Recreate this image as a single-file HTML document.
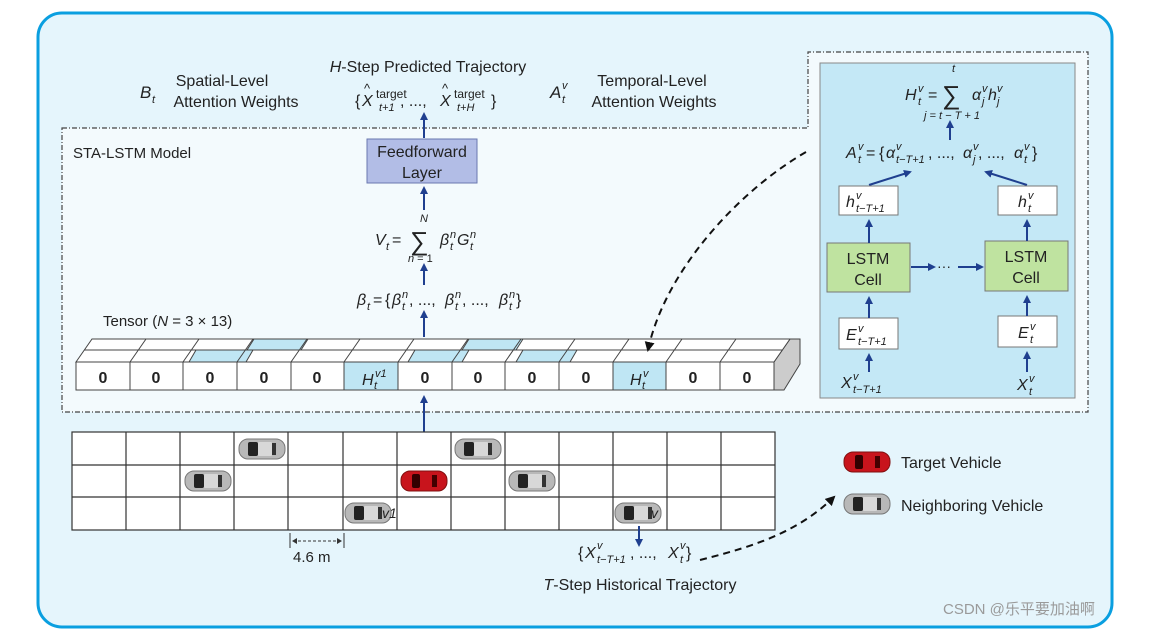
<!DOCTYPE html>
<html><head><meta charset="utf-8"><style>
body{margin:0;background:#fff;}
svg text{font-family:"Liberation Sans",sans-serif;fill:#222;}
.i{font-style:italic;}
.s{font-size:11px;font-style:italic;}
</style></head><body>
<svg width="1150" height="631" viewBox="0 0 1150 631" xmlns="http://www.w3.org/2000/svg">
<defs>
<marker id="ab" markerWidth="8" markerHeight="8" refX="6" refY="4" orient="auto" markerUnits="userSpaceOnUse"><path d="M0,0 L8,4 L0,8 Z" fill="#1f3f8f"/></marker>
<marker id="ak" markerWidth="10" markerHeight="10" refX="8" refY="5" orient="auto" markerUnits="userSpaceOnUse"><path d="M0,0 L10,5 L0,10 Z" fill="#111"/></marker>
<g id="car"><rect x="-23" y="-10" width="46" height="20" rx="9" fill="#b8b8b8" stroke="#777" stroke-width="1"/><rect x="-14" y="-7" width="10" height="14" rx="2" fill="#222"/><rect x="-4" y="-7" width="14" height="14" rx="1" fill="#d8d8d8"/><rect x="10" y="-6" width="4" height="12" fill="#333"/></g>
<g id="rcar"><rect x="-23" y="-10" width="46" height="20" rx="9" fill="#c8141c" stroke="#801010" stroke-width="1"/><rect x="-12" y="-7" width="8" height="14" rx="2" fill="#300"/><rect x="8" y="-6" width="5" height="12" fill="#400"/></g>
</defs>
<rect x="38" y="13" width="1074" height="614" rx="24" fill="#e5f5fc" stroke="#0a9fe0" stroke-width="3"/>
<path d="M62,128 H808 V52 H1088 V412 H62 Z" fill="#f3fafd" stroke="#444" stroke-width="1.2" stroke-dasharray="5,2,1,2"/>
<text x="140" y="98" font-size="17" class="i">B</text><text x="152" y="103" class="s">t</text>
<text x="222" y="86" font-size="16" text-anchor="middle">Spatial-Level</text>
<text x="236" y="107" font-size="16" text-anchor="middle">Attention Weights</text>
<text x="428" y="72" font-size="16" text-anchor="middle"><tspan class="i">H</tspan>-Step Predicted Trajectory</text>
<text x="355" y="106" font-size="16">{</text><text x="362" y="106" font-size="16" class="i">X</text><text x="364" y="93" font-size="13">^</text>
<text x="376" y="98" font-size="12">target</text><text x="379" y="111" class="s">t+1</text>
<text x="400" y="106" font-size="16">, ...,</text><text x="440" y="106" font-size="16" class="i">X</text><text x="442" y="93" font-size="13">^</text>
<text x="454" y="98" font-size="12">target</text><text x="457" y="111" class="s">t+H</text><text x="491" y="106" font-size="16">}</text>
<text x="550" y="98" font-size="17" class="i">A</text><text x="562" y="89" class="s">v</text><text x="562" y="103" class="s">t</text>
<text x="652" y="86" font-size="16" text-anchor="middle">Temporal-Level</text>
<text x="654" y="107" font-size="16" text-anchor="middle">Attention Weights</text>
<text x="73" y="158" font-size="15">STA-LSTM Model</text>
<line x1="424" y1="138" x2="424" y2="114" stroke="#1f3f8f" stroke-width="2" marker-end="url(#ab)"/>
<rect x="367" y="139" width="110" height="44" fill="#b2bde6" stroke="#6a78b0"/>
<text x="422" y="157" font-size="16" text-anchor="middle">Feedforward</text>
<text x="422" y="178" font-size="16" text-anchor="middle">Layer</text>
<line x1="424" y1="210" x2="424" y2="188" stroke="#1f3f8f" stroke-width="2" marker-end="url(#ab)"/>
<text x="375" y="245" font-size="16" class="i">V</text><text x="386" y="250" class="s">t</text><text x="392" y="245" font-size="16">=</text>
<text x="410" y="250" font-size="26">∑</text><text x="420" y="222" class="s">N</text><text x="408" y="262" font-size="11"><tspan class="i">n</tspan> = 1</text>
<text x="440" y="245" font-size="16" class="i">β</text><text x="450" y="250" class="s">t</text><text x="450" y="238" class="s">n</text>
<text x="457" y="245" font-size="16" class="i">G</text><text x="470" y="250" class="s">t</text><text x="470" y="238" class="s">n</text>
<line x1="424" y1="285" x2="424" y2="265" stroke="#1f3f8f" stroke-width="2" marker-end="url(#ab)"/>
<text x="357" y="305" font-size="16" class="i">β</text><text x="367" y="310" class="s">t</text><text x="373" y="305" font-size="16">=</text><text x="385" y="305" font-size="16">{</text>
<text x="392" y="305" font-size="16" class="i">β</text><text x="402" y="310" class="s">t</text><text x="402" y="298" class="s">n</text>
<text x="409" y="305" font-size="16">, ...,</text>
<text x="445" y="305" font-size="16" class="i">β</text><text x="455" y="310" class="s">t</text><text x="455" y="298" class="s">n</text>
<text x="462" y="305" font-size="16">, ...,</text>
<text x="499" y="305" font-size="16" class="i">β</text><text x="509" y="310" class="s">t</text><text x="509" y="298" class="s">n</text><text x="516" y="305" font-size="16">}</text>
<line x1="424" y1="337" x2="424" y2="312" stroke="#1f3f8f" stroke-width="2" marker-end="url(#ab)"/>
<text x="103" y="326" font-size="15">Tensor (<tspan class="i">N</tspan> = 3 × 13)</text>
<g stroke="#444" stroke-width="1">
<path d="M774,362 L790,339 L800,339 L800,364 L784,390 L774,390 Z" fill="#ccc"/>
<path d="M76,362 L92,339 L790,339 L774,362 Z" fill="#fff"/>
<path d="M196,350 L253,350 L246,362 L189,362 Z" fill="#bfe6f4"/>
<path d="M254,339 L308,339 L301,350 L247,350 Z" fill="#bfe6f4"/>
<path d="M415,350 L469,350 L462,362 L408,362 Z" fill="#bfe6f4"/>
<path d="M469,339 L523,339 L516,350 L462,350 Z" fill="#bfe6f4"/>
<path d="M523,350 L577,350 L570,362 L516,362 Z" fill="#bfe6f4"/>
<line x1="84" y1="350" x2="782" y2="350"/>
</g>
<g stroke="#444" stroke-width="1" fill="none">
<path d="M130,362 L146,339 M183,362 L199,339 M237,362 L253,339 M291,362 L307,339 M344,362 L360,339 M398,362 L414,339 M452,362 L468,339 M505,362 L521,339 M559,362 L575,339 M613,362 L629,339 M666,362 L682,339 M720,362 L736,339"/>
</g>
<g stroke="#444" stroke-width="1">
<rect x="76" y="362" width="698" height="28" fill="#fff"/>
<rect x="344" y="362" width="54" height="28" fill="#bfe6f4"/>
<rect x="613" y="362" width="53" height="28" fill="#bfe6f4"/>
<path d="M130,362V390 M183,362V390 M237,362V390 M291,362V390 M452,362V390 M505,362V390 M559,362V390 M720,362V390" fill="none"/>
</g>
<g font-size="16" font-weight="bold" text-anchor="middle">
<text x="103" y="383">0</text><text x="156" y="383">0</text><text x="210" y="383">0</text><text x="264" y="383">0</text><text x="317" y="383">0</text>
<text x="425" y="383">0</text><text x="478" y="383">0</text><text x="532" y="383">0</text><text x="586" y="383">0</text>
<text x="693" y="383">0</text><text x="747" y="383">0</text></g>
<text x="362" y="385" font-size="16" class="i">H</text><text x="374" y="389" class="s">t</text><text x="375" y="377" class="s">v1</text>
<text x="630" y="385" font-size="16" class="i">H</text><text x="642" y="389" class="s">t</text><text x="643" y="377" class="s">v</text>
<line x1="424" y1="432" x2="424" y2="397" stroke="#1f3f8f" stroke-width="2" marker-end="url(#ab)"/>
<g stroke="#333" stroke-width="1.2" fill="none">
<rect x="72" y="432" width="703" height="98" fill="#fff"/>
<line x1="72" y1="465" x2="775" y2="465"/><line x1="72" y1="497" x2="775" y2="497"/>
<path d="M126,432V530 M180,432V530 M234,432V530 M288,432V530 M343,432V530 M397,432V530 M451,432V530 M505,432V530 M559,432V530 M613,432V530 M667,432V530 M721,432V530"/>
</g>
<use href="#car" x="262" y="449"/><use href="#car" x="478" y="449"/>
<use href="#car" x="208" y="481"/><use href="#rcar" x="424" y="481"/><use href="#car" x="532" y="481"/>
<use href="#car" x="368" y="513"/><use href="#car" x="638" y="513"/>
<text x="382" y="518" font-size="14" class="i">v1</text><text x="651" y="518" font-size="14" class="i">v</text>
<line x1="290" y1="533" x2="290" y2="548" stroke="#333"/><line x1="344" y1="533" x2="344" y2="548" stroke="#333"/>
<line x1="293" y1="541" x2="341" y2="541" stroke="#333" stroke-dasharray="3,2"/>
<path d="M292,541 l5,-3 v6 z M342,541 l-5,-3 v6 z" fill="#333"/>
<text x="293" y="562" font-size="15">4.6 m</text>
<line x1="639" y1="526" x2="639" y2="545" stroke="#1f3f8f" stroke-width="2" marker-end="url(#ab)"/>
<text x="578" y="558" font-size="16">{</text><text x="585" y="558" font-size="16" class="i">X</text><text x="597" y="563" class="s">t−T+1</text><text x="597" y="549" class="s">v</text>
<text x="630" y="558" font-size="16">, ...,</text><text x="668" y="558" font-size="16" class="i">X</text><text x="680" y="563" class="s">t</text><text x="680" y="549" class="s">v</text><text x="686" y="558" font-size="16">}</text>
<text x="640" y="590" font-size="16" text-anchor="middle"><tspan class="i">T</tspan>-Step Historical Trajectory</text>
<path d="M700,560 C760,545 800,530 834,497" fill="none" stroke="#111" stroke-width="2" stroke-dasharray="7,5" marker-end="url(#ak)"/>
<path d="M806,152 C740,190 665,270 648,350" fill="none" stroke="#111" stroke-width="2" stroke-dasharray="7,5" marker-end="url(#ak)"/>
<use href="#rcar" x="867" y="462"/><use href="#car" x="867" y="504"/>
<text x="901" y="468" font-size="16">Target Vehicle</text>
<text x="901" y="511" font-size="16">Neighboring Vehicle</text>
<text x="943" y="614" font-size="15" style="fill:#9a9a9a;font-family:'Liberation Sans','Noto Sans CJK SC',sans-serif">CSDN @乐平要加油啊</text>
<rect x="820" y="63" width="255" height="335" fill="#c4e8f6" stroke="#888"/>
<text x="905" y="100" font-size="16" class="i">H</text><text x="918" y="105" class="s">t</text><text x="918" y="92" class="s">v</text><text x="928" y="100" font-size="16">=</text>
<text x="942" y="104" font-size="26">∑</text><text x="952" y="72" class="s">t</text><text x="924" y="119" font-size="11" class="i">j = t − T + 1</text>
<text x="972" y="100" font-size="16" class="i">α</text><text x="982" y="105" class="s">j</text><text x="982" y="92" class="s">v</text>
<text x="988" y="100" font-size="16" class="i">h</text><text x="997" y="105" class="s">j</text><text x="997" y="92" class="s">v</text>
<line x1="950" y1="140" x2="950" y2="122" stroke="#1f3f8f" stroke-width="2" marker-end="url(#ab)"/>
<text x="846" y="158" font-size="16" class="i">A</text><text x="858" y="163" class="s">t</text><text x="858" y="150" class="s">v</text>
<text x="866" y="158" font-size="16">=</text><text x="879" y="158" font-size="16">{</text>
<text x="886" y="158" font-size="16" class="i">α</text><text x="896" y="163" class="s">t−T+1</text><text x="896" y="150" class="s">v</text>
<text x="928" y="158" font-size="16">, ...,</text>
<text x="963" y="158" font-size="16" class="i">α</text><text x="973" y="163" class="s">j</text><text x="973" y="150" class="s">v</text>
<text x="978" y="158" font-size="16">, ...,</text>
<text x="1014" y="158" font-size="16" class="i">α</text><text x="1024" y="163" class="s">t</text><text x="1024" y="150" class="s">v</text><text x="1032" y="158" font-size="16">}</text>
<line x1="869" y1="185" x2="910" y2="172" stroke="#1f3f8f" stroke-width="2" marker-end="url(#ab)"/>
<line x1="1027" y1="185" x2="986" y2="172" stroke="#1f3f8f" stroke-width="2" marker-end="url(#ab)"/>
<g stroke="#777" fill="#fff"><rect x="839" y="186" width="59" height="29"/><rect x="998" y="186" width="59" height="29"/><rect x="839" y="318" width="59" height="31"/><rect x="998" y="316" width="59" height="31"/></g>
<g stroke="#777" fill="#bfe3a0"><rect x="827" y="243" width="83" height="49"/><rect x="985" y="241" width="83" height="50"/></g>
<text x="846" y="207" font-size="16" class="i">h</text><text x="856" y="212" class="s">t−T+1</text><text x="856" y="199" class="s">v</text>
<text x="1018" y="207" font-size="16" class="i">h</text><text x="1028" y="212" class="s">t</text><text x="1028" y="199" class="s">v</text>
<text x="868" y="264" font-size="16" text-anchor="middle">LSTM</text><text x="868" y="285" font-size="16" text-anchor="middle">Cell</text>
<text x="1026" y="262" font-size="16" text-anchor="middle">LSTM</text><text x="1026" y="283" font-size="16" text-anchor="middle">Cell</text>
<text x="846" y="340" font-size="16" class="i">E</text><text x="858" y="345" class="s">t−T+1</text><text x="858" y="332" class="s">v</text>
<text x="1018" y="338" font-size="16" class="i">E</text><text x="1030" y="343" class="s">t</text><text x="1030" y="330" class="s">v</text>
<text x="841" y="388" font-size="16" class="i">X</text><text x="853" y="393" class="s">t−T+1</text><text x="853" y="380" class="s">v</text>
<text x="1017" y="390" font-size="16" class="i">X</text><text x="1029" y="395" class="s">t</text><text x="1029" y="382" class="s">v</text>
<g stroke="#1f3f8f" stroke-width="2">
<line x1="869" y1="243" x2="869" y2="221" marker-end="url(#ab)"/><line x1="1027" y1="241" x2="1027" y2="221" marker-end="url(#ab)"/>
<line x1="869" y1="318" x2="869" y2="298" marker-end="url(#ab)"/><line x1="1027" y1="316" x2="1027" y2="297" marker-end="url(#ab)"/>
<line x1="869" y1="372" x2="869" y2="355" marker-end="url(#ab)"/><line x1="1027" y1="372" x2="1027" y2="353" marker-end="url(#ab)"/>
<line x1="911" y1="267" x2="934" y2="267" marker-end="url(#ab)"/><line x1="958" y1="267" x2="982" y2="267" marker-end="url(#ab)"/>
</g>
<text x="937" y="271" font-size="14">···</text>
</svg>
</body></html>
